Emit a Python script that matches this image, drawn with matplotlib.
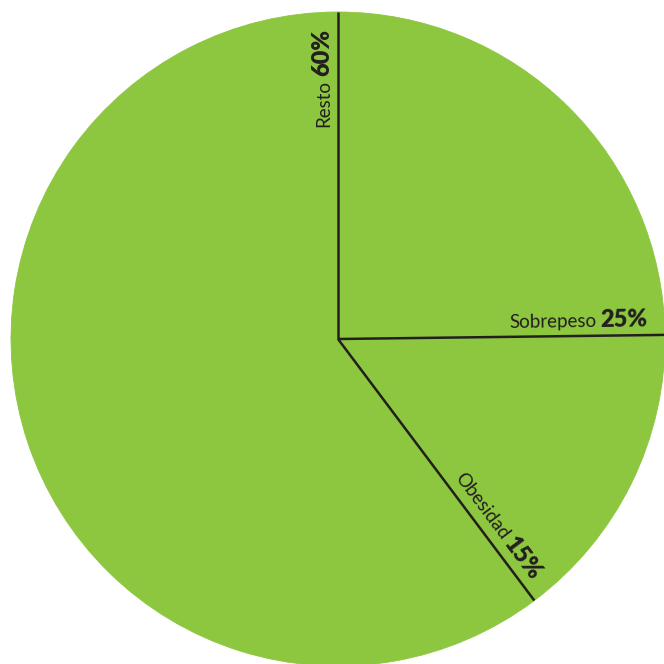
import numpy as np
import matplotlib.pyplot as plt

labels = ['Sobrepeso', 'Obesidad', 'Resto']
values = [24.8, 14.95, 60.25]   # wedge sizes as measured on the picture
pcts = ['25%', '15%', '60%']

green = '#8dc63f'
dark = '#231f20'

fig = plt.figure(figsize=(6.64, 6.64), dpi=100)
ax = fig.add_axes([0, 0, 1, 1])

R = 327
ax.pie(values, radius=R, startangle=90, counterclock=False,
       colors=[green] * len(values), wedgeprops=dict(linewidth=0.6, edgecolor=green))
# 1 data unit = 1 pixel, centre at (338, 339) px from top-left
ax.set_xlim(-338, 326)
ax.set_ylim(-325, 339)
ax.set_aspect('equal')
ax.axis('off')

# slice boundaries (clockwise from the top)
bounds = 90 - 360 * np.cumsum([0] + values) / sum(values)
for a in np.unique(np.round(bounds % 360, 6)):
    rad = np.deg2rad(a)
    ax.plot([0, R * np.cos(rad)], [0, R * np.sin(rad)],
            color=dark, lw=1.8, solid_capstyle='butt')

renderer = fig.canvas.get_renderer()
r_end = 310
gap = 9
space = 4
for lab, pct, a in zip(labels, pcts, bounds[1:]):
    rad = np.deg2rad(a)
    d = np.array([np.cos(rad), np.sin(rad)])
    n = np.array([-np.sin(rad), np.cos(rad)])
    p = r_end * d + gap * n
    t = ax.text(p[0], p[1], pct, fontsize=17, fontweight='heavy', family='Lato',
                color=dark, ha='right', va='baseline')
    w = t.get_window_extent(renderer).width
    t.set_rotation(a % 360 if a % 360 <= 90 else a)
    t.set_rotation_mode('anchor')
    q = p - (w + space) * d
    ax.text(q[0], q[1], lab, fontsize=13.5, family='Lato', color=dark,
            ha='right', va='baseline', rotation=t.get_rotation(),
            rotation_mode='anchor')

fig.savefig('out.png', dpi=100)
